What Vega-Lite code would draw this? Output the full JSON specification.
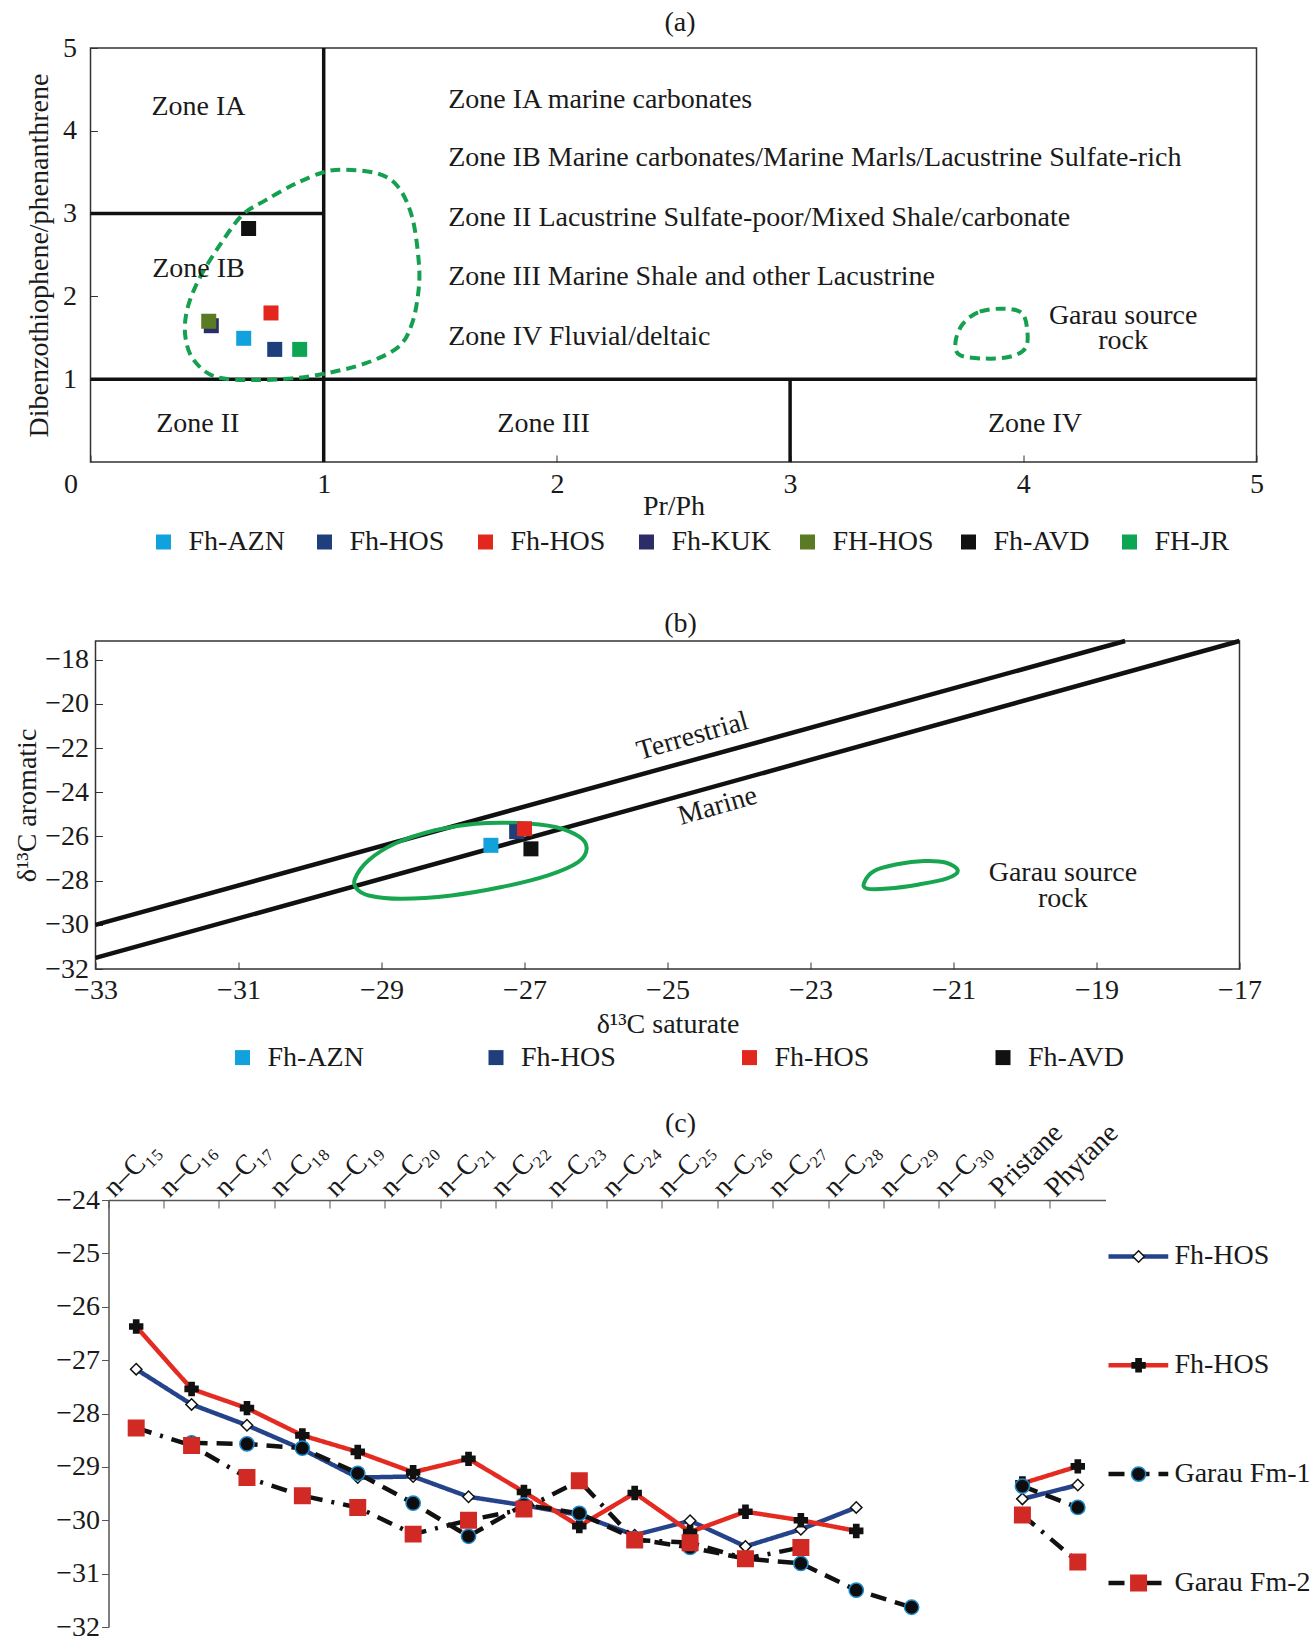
{
  "$schema": "https://vega.github.io/schema/vega-lite/v6.json",
  "padding": {"left": 11.5, "top": 8, "right": 0, "bottom": 0},
  "spacing": 37,
  "config": {
    "font": "Liberation Serif",
    "view": {"stroke": null},
    "axis": {"labelFont": "Liberation Serif", "titleFont": "Liberation Serif", "labelFontSize": 28, "titleFontSize": 28, "titleFontWeight": "normal", "labelColor": "#1a1a1a", "titleColor": "#1a1a1a", "grid": false, "domainColor": "#555", "tickColor": "#333"},
    "legend": {"labelFont": "Liberation Serif", "labelFontSize": 28, "labelColor": "#1a1a1a"},
    "title": {"font": "Liberation Serif", "fontSize": 28, "fontWeight": "normal", "color": "#1a1a1a"},
    "text": {"font": "Liberation Serif", "fontSize": 28, "color": "#1a1a1a"}
  },
  "resolve": {"scale": {"color": "independent", "fill": "independent", "stroke": "independent", "shape": "independent", "size": "independent", "strokeDash": "independent"}},
  "datasets": {
    "zonesA": [
      {"x": 0, "x2": 5, "y": 1, "y2": 1},
      {"x": 1, "x2": 1, "y": 0, "y2": 5},
      {"x": 0, "x2": 1, "y": 3, "y2": 3},
      {"x": 3, "x2": 3, "y": 0, "y2": 1}
    ],
    "loopsA": [
      {"loop": "samples", "i": 0, "x": 1.0, "y": 3.50},
      {"loop": "samples", "i": 1, "x": 0.878, "y": 3.36},
      {"loop": "samples", "i": 2, "x": 0.75, "y": 3.16},
      {"loop": "samples", "i": 3, "x": 0.65, "y": 2.98},
      {"loop": "samples", "i": 4, "x": 0.55, "y": 2.60},
      {"loop": "samples", "i": 5, "x": 0.464, "y": 2.20},
      {"loop": "samples", "i": 6, "x": 0.414, "y": 1.835},
      {"loop": "samples", "i": 7, "x": 0.407, "y": 1.51},
      {"loop": "samples", "i": 8, "x": 0.443, "y": 1.23},
      {"loop": "samples", "i": 9, "x": 0.535, "y": 1.03},
      {"loop": "samples", "i": 10, "x": 0.693, "y": 0.99},
      {"loop": "samples", "i": 11, "x": 0.864, "y": 1.01},
      {"loop": "samples", "i": 12, "x": 1.0, "y": 1.065},
      {"loop": "samples", "i": 13, "x": 1.178, "y": 1.19},
      {"loop": "samples", "i": 14, "x": 1.32, "y": 1.39},
      {"loop": "samples", "i": 15, "x": 1.379, "y": 1.675},
      {"loop": "samples", "i": 16, "x": 1.407, "y": 2.08},
      {"loop": "samples", "i": 17, "x": 1.407, "y": 2.44},
      {"loop": "samples", "i": 18, "x": 1.379, "y": 2.96},
      {"loop": "samples", "i": 19, "x": 1.32, "y": 3.32},
      {"loop": "samples", "i": 20, "x": 1.236, "y": 3.48},
      {"loop": "samples", "i": 21, "x": 1.092, "y": 3.53},
      {"loop": "garau", "i": 0, "x": 3.903, "y": 1.851},
      {"loop": "garau", "i": 1, "x": 3.806, "y": 1.808},
      {"loop": "garau", "i": 2, "x": 3.738, "y": 1.657},
      {"loop": "garau", "i": 3, "x": 3.709, "y": 1.443},
      {"loop": "garau", "i": 4, "x": 3.728, "y": 1.292},
      {"loop": "garau", "i": 5, "x": 3.835, "y": 1.249},
      {"loop": "garau", "i": 6, "x": 3.942, "y": 1.271},
      {"loop": "garau", "i": 7, "x": 4.01, "y": 1.378},
      {"loop": "garau", "i": 8, "x": 4.016, "y": 1.614},
      {"loop": "garau", "i": 9, "x": 3.99, "y": 1.808}
    ],
    "ptsA": [
      {"sample": "Fh-AZN", "x": 0.657, "y": 1.494},
      {"sample": "Fh-HOS#1", "x": 0.79, "y": 1.36},
      {"sample": "Fh-HOS#2", "x": 0.774, "y": 1.80},
      {"sample": "Fh-KUK", "x": 0.518, "y": 1.646},
      {"sample": "FH-HOS", "x": 0.507, "y": 1.70},
      {"sample": "Fh-AVD", "x": 0.678, "y": 2.82},
      {"sample": "FH-JR", "x": 0.897, "y": 1.36}
    ],
    "textAc": [
      {"x": 0.463, "y": 4.285, "t": "Zone IA"},
      {"x": 0.463, "y": 2.33, "t": "Zone IB"},
      {"x": 0.46, "y": 0.454, "t": "Zone II"},
      {"x": 1.943, "y": 0.454, "t": "Zone III"},
      {"x": 4.05, "y": 0.454, "t": "Zone IV"},
      {"x": 4.428, "y": 1.765, "t": "Garau source\nrock"}
    ],
    "textAl": [
      {"x": 1.534, "y": 4.373, "t": "Zone IA marine carbonates"},
      {"x": 1.534, "y": 3.668, "t": "Zone IB Marine carbonates/Marine Marls/Lacustrine Sulfate-rich"},
      {"x": 1.534, "y": 2.949, "t": "Zone II Lacustrine Sulfate-poor/Mixed Shale/carbonate"},
      {"x": 1.534, "y": 2.231, "t": "Zone III Marine Shale and other Lacustrine"},
      {"x": 1.534, "y": 1.513, "t": "Zone IV Fluvial/deltaic"}
    ],
    "linesB": [
      {"line": "Terrestrial", "sat": -33, "aro": -30.0},
      {"line": "Terrestrial", "sat": -18.6, "aro": -17.15},
      {"line": "Marine", "sat": -33, "aro": -31.5},
      {"line": "Marine", "sat": -17.0, "aro": -17.15}
    ],
    "loopsB": [
      {"loop": "samples", "i": 0, "sat": -29.37, "aro": -27.91},
      {"loop": "samples", "i": 1, "sat": -29.18, "aro": -27.08},
      {"loop": "samples", "i": 2, "sat": -28.81, "aro": -26.32},
      {"loop": "samples", "i": 3, "sat": -28.25, "aro": -25.72},
      {"loop": "samples", "i": 4, "sat": -27.69, "aro": -25.42},
      {"loop": "samples", "i": 5, "sat": -27.09, "aro": -25.39},
      {"loop": "samples", "i": 6, "sat": -26.57, "aro": -25.57},
      {"loop": "samples", "i": 7, "sat": -26.23, "aro": -26.02},
      {"loop": "samples", "i": 8, "sat": -26.13, "aro": -26.55},
      {"loop": "samples", "i": 9, "sat": -26.25, "aro": -27.16},
      {"loop": "samples", "i": 10, "sat": -26.67, "aro": -27.76},
      {"loop": "samples", "i": 11, "sat": -27.32, "aro": -28.29},
      {"loop": "samples", "i": 12, "sat": -28.02, "aro": -28.67},
      {"loop": "samples", "i": 13, "sat": -28.72, "aro": -28.82},
      {"loop": "samples", "i": 14, "sat": -29.18, "aro": -28.67},
      {"loop": "samples", "i": 15, "sat": -29.35, "aro": -28.36},
      {"loop": "garau", "i": 0, "sat": -22.25, "aro": -28.09},
      {"loop": "garau", "i": 1, "sat": -22.11, "aro": -27.56},
      {"loop": "garau", "i": 2, "sat": -21.79, "aro": -27.26},
      {"loop": "garau", "i": 3, "sat": -21.41, "aro": -27.11},
      {"loop": "garau", "i": 4, "sat": -21.10, "aro": -27.19},
      {"loop": "garau", "i": 5, "sat": -20.94, "aro": -27.56},
      {"loop": "garau", "i": 6, "sat": -21.10, "aro": -27.91},
      {"loop": "garau", "i": 7, "sat": -21.48, "aro": -28.17},
      {"loop": "garau", "i": 8, "sat": -21.92, "aro": -28.36},
      {"loop": "garau", "i": 9, "sat": -22.21, "aro": -28.36}
    ],
    "ptsB": [
      {"sample": "Fh-AZN", "sat": -27.47, "aro": -26.40},
      {"sample": "Fh-HOS#1", "sat": -27.11, "aro": -25.78},
      {"sample": "Fh-HOS#2", "sat": -27.0, "aro": -25.65},
      {"sample": "Fh-AVD", "sat": -26.91, "aro": -26.56}
    ],
    "lineLabelsB": [
      {"sat": -24.65, "aro": -21.47, "t": "Terrestrial"},
      {"sat": -24.30, "aro": -24.63, "t": "Marine"}
    ],
    "textB": [
      {"sat": -19.47, "aro": -27.64, "t": "Garau source\nrock"}
    ],
    "chains": [
      {"s": "Fh-HOS A", "seg": "n", "c": "n–C₁₅", "v": -27.17},
      {"s": "Fh-HOS A", "seg": "n", "c": "n–C₁₆", "v": -27.83},
      {"s": "Fh-HOS A", "seg": "n", "c": "n–C₁₇", "v": -28.22},
      {"s": "Fh-HOS A", "seg": "n", "c": "n–C₁₈", "v": -28.67},
      {"s": "Fh-HOS A", "seg": "n", "c": "n–C₁₉", "v": -29.20},
      {"s": "Fh-HOS A", "seg": "n", "c": "n–C₂₀", "v": -29.18},
      {"s": "Fh-HOS A", "seg": "n", "c": "n–C₂₁", "v": -29.56},
      {"s": "Fh-HOS A", "seg": "n", "c": "n–C₂₂", "v": -29.72},
      {"s": "Fh-HOS A", "seg": "n", "c": "n–C₂₃", "v": -29.90},
      {"s": "Fh-HOS A", "seg": "n", "c": "n–C₂₄", "v": -30.28},
      {"s": "Fh-HOS A", "seg": "n", "c": "n–C₂₅", "v": -30.01},
      {"s": "Fh-HOS A", "seg": "n", "c": "n–C₂₆", "v": -30.49},
      {"s": "Fh-HOS A", "seg": "n", "c": "n–C₂₇", "v": -30.17},
      {"s": "Fh-HOS A", "seg": "n", "c": "n–C₂₈", "v": -29.76},
      {"s": "Fh-HOS A", "seg": "i", "c": "Pristane", "v": -29.60},
      {"s": "Fh-HOS A", "seg": "i", "c": "Phytane", "v": -29.34},
      {"s": "Fh-HOS B", "seg": "n", "c": "n–C₁₅", "v": -26.37},
      {"s": "Fh-HOS B", "seg": "n", "c": "n–C₁₆", "v": -27.54},
      {"s": "Fh-HOS B", "seg": "n", "c": "n–C₁₇", "v": -27.90},
      {"s": "Fh-HOS B", "seg": "n", "c": "n–C₁₈", "v": -28.41},
      {"s": "Fh-HOS B", "seg": "n", "c": "n–C₁₉", "v": -28.72},
      {"s": "Fh-HOS B", "seg": "n", "c": "n–C₂₀", "v": -29.10},
      {"s": "Fh-HOS B", "seg": "n", "c": "n–C₂₁", "v": -28.85},
      {"s": "Fh-HOS B", "seg": "n", "c": "n–C₂₂", "v": -29.47},
      {"s": "Fh-HOS B", "seg": "n", "c": "n–C₂₃", "v": -30.11},
      {"s": "Fh-HOS B", "seg": "n", "c": "n–C₂₄", "v": -29.49},
      {"s": "Fh-HOS B", "seg": "n", "c": "n–C₂₅", "v": -30.22},
      {"s": "Fh-HOS B", "seg": "n", "c": "n–C₂₆", "v": -29.84},
      {"s": "Fh-HOS B", "seg": "n", "c": "n–C₂₇", "v": -30.00},
      {"s": "Fh-HOS B", "seg": "n", "c": "n–C₂₈", "v": -30.20},
      {"s": "Fh-HOS B", "seg": "i", "c": "Pristane", "v": -29.31},
      {"s": "Fh-HOS B", "seg": "i", "c": "Phytane", "v": -28.99},
      {"s": "Garau Fm-1", "seg": "n", "c": "n–C₁₆", "v": -28.55},
      {"s": "Garau Fm-1", "seg": "n", "c": "n–C₁₇", "v": -28.57},
      {"s": "Garau Fm-1", "seg": "n", "c": "n–C₁₈", "v": -28.65},
      {"s": "Garau Fm-1", "seg": "n", "c": "n–C₁₉", "v": -29.12},
      {"s": "Garau Fm-1", "seg": "n", "c": "n–C₂₀", "v": -29.68},
      {"s": "Garau Fm-1", "seg": "n", "c": "n–C₂₁", "v": -30.30},
      {"s": "Garau Fm-1", "seg": "n", "c": "n–C₂₂", "v": -29.71},
      {"s": "Garau Fm-1", "seg": "n", "c": "n–C₂₃", "v": -29.87},
      {"s": "Garau Fm-1", "seg": "n", "c": "n–C₂₄", "v": -30.35},
      {"s": "Garau Fm-1", "seg": "n", "c": "n–C₂₅", "v": -30.51},
      {"s": "Garau Fm-1", "seg": "n", "c": "n–C₂₆", "v": -30.72},
      {"s": "Garau Fm-1", "seg": "n", "c": "n–C₂₇", "v": -30.81},
      {"s": "Garau Fm-1", "seg": "n", "c": "n–C₂₈", "v": -31.31},
      {"s": "Garau Fm-1", "seg": "n", "c": "n–C₂₉", "v": -31.63},
      {"s": "Garau Fm-1", "seg": "i", "c": "Pristane", "v": -29.36},
      {"s": "Garau Fm-1", "seg": "i", "c": "Phytane", "v": -29.76},
      {"s": "Garau Fm-2", "seg": "n", "c": "n–C₁₅", "v": -28.27},
      {"s": "Garau Fm-2", "seg": "n", "c": "n–C₁₆", "v": -28.60},
      {"s": "Garau Fm-2", "seg": "n", "c": "n–C₁₇", "v": -29.20},
      {"s": "Garau Fm-2", "seg": "n", "c": "n–C₁₈", "v": -29.54},
      {"s": "Garau Fm-2", "seg": "n", "c": "n–C₁₉", "v": -29.76},
      {"s": "Garau Fm-2", "seg": "n", "c": "n–C₂₀", "v": -30.26},
      {"s": "Garau Fm-2", "seg": "n", "c": "n–C₂₁", "v": -30.00},
      {"s": "Garau Fm-2", "seg": "n", "c": "n–C₂₂", "v": -29.79},
      {"s": "Garau Fm-2", "seg": "n", "c": "n–C₂₃", "v": -29.26},
      {"s": "Garau Fm-2", "seg": "n", "c": "n–C₂₄", "v": -30.37},
      {"s": "Garau Fm-2", "seg": "n", "c": "n–C₂₅", "v": -30.42},
      {"s": "Garau Fm-2", "seg": "n", "c": "n–C₂₆", "v": -30.72},
      {"s": "Garau Fm-2", "seg": "n", "c": "n–C₂₇", "v": -30.51},
      {"s": "Garau Fm-2", "seg": "i", "c": "Pristane", "v": -29.90},
      {"s": "Garau Fm-2", "seg": "i", "c": "Phytane", "v": -30.78}
    ],
    "legC": [
      {"s": "Fh-HOS A", "label": "Fh-HOS"},
      {"s": "Fh-HOS B", "label": "Fh-HOS"},
      {"s": "Garau Fm-1", "label": "Garau Fm-1"},
      {"s": "Garau Fm-2", "label": "Garau Fm-2"}
    ]
  },
  "vconcat": [
    {
      "width": 1166,
      "height": 414,
      "view": {"stroke": "#333", "strokeWidth": 1.5},
      "title": {"text": "(a)", "anchor": "middle", "frame": "group", "dx": 6.5, "offset": -3},
      "layer": [
        {
          "data": {"name": "zonesA"},
          "mark": {"type": "rule", "color": "#111", "strokeWidth": 3.5},
          "encoding": {
            "x": {"field": "x", "type": "quantitative", "scale": {"domain": [0, 5], "nice": false, "zero": false},
              "axis": {"title": "Pr/Ph", "values": [0, 1, 2, 3, 4, 5], "format": "d", "domain": false, "tickSize": -7, "labelPadding": 15, "labelFlush": false, "titlePadding": -6,
                "labelOffset": {"condition": {"test": "datum.value === 0", "value": -20}, "value": 0}}},
            "x2": {"field": "x2"},
            "y": {"field": "y", "type": "quantitative", "scale": {"domain": [0, 5], "nice": false, "zero": false},
              "axis": {"title": "Dibenzothiophene/phenanthrene", "values": [1, 2, 3, 4, 5], "format": "d", "domain": false, "tickSize": -7, "labelPadding": 21, "titleX": -51.5, "titleBaseline": "middle"}},
            "y2": {"field": "y2"}
          }
        },
        {
          "data": {"name": "loopsA"},
          "mark": {"type": "line", "interpolate": "cardinal-closed", "color": "#14a04f", "strokeWidth": 4, "strokeDash": [10, 6]},
          "encoding": {
            "x": {"field": "x", "type": "quantitative"},
            "y": {"field": "y", "type": "quantitative"},
            "detail": {"field": "loop"},
            "order": {"field": "i"}
          }
        },
        {
          "data": {"name": "ptsA"},
          "mark": {"type": "point", "shape": "square", "filled": true, "size": 225, "opacity": 1, "strokeWidth": 0},
          "encoding": {
            "x": {"field": "x", "type": "quantitative"},
            "y": {"field": "y", "type": "quantitative"},
            "color": {"field": "sample", "type": "nominal",
              "scale": {"domain": ["Fh-AZN", "Fh-HOS#1", "Fh-HOS#2", "Fh-KUK", "FH-HOS", "Fh-AVD", "FH-JR"], "range": ["#11a1dc", "#1f3f7c", "#e2271f", "#2c2d68", "#5b7a24", "#111111", "#0ca553"]},
              "legend": {"title": null, "orient": "none", "legendX": 44, "legendY": 465, "direction": "horizontal", "columns": 7, "gridAlign": "all", "columnPadding": 20, "symbolType": "square", "symbolSize": 225, "symbolStrokeWidth": 0, "labelOffset": 11, "padding": 15, "labelExpr": "split(datum.label, '#')[0]"}}
          }
        },
        {
          "data": {"name": "textAc"},
          "mark": {"type": "text", "align": "center", "baseline": "middle", "fontSize": 28, "lineBreak": "\n", "lineHeight": 25},
          "encoding": {
            "x": {"field": "x", "type": "quantitative"},
            "y": {"field": "y", "type": "quantitative"},
            "text": {"field": "t"}
          }
        },
        {
          "data": {"name": "textAl"},
          "mark": {"type": "text", "align": "left", "baseline": "middle", "fontSize": 28},
          "encoding": {
            "x": {"field": "x", "type": "quantitative"},
            "y": {"field": "y", "type": "quantitative"},
            "text": {"field": "t"}
          }
        }
      ]
    },
    {
      "hconcat": [
        {"width": 4.5, "height": 10, "data": {"values": []}, "mark": "point"},
        {
          "width": 1144,
          "height": 328,
          "view": {"stroke": "#333", "strokeWidth": 1.5},
          "title": {"text": "(b)", "anchor": "middle", "frame": "group", "dx": 13, "offset": -6},
          "layer": [
            {
              "data": {"name": "linesB"},
              "mark": {"type": "line", "color": "#111", "strokeWidth": 4.5},
              "encoding": {
                "x": {"field": "sat", "type": "quantitative", "scale": {"domain": [-33, -17], "nice": false, "zero": false},
                  "axis": {"title": "δ¹³C saturate", "values": [-33, -31, -29, -27, -25, -23, -21, -19, -17], "format": "d", "domain": false, "tickSize": -7, "labelPadding": 14, "labelFlush": false, "titlePadding": 6}},
                "y": {"field": "aro", "type": "quantitative", "scale": {"domain": [-32, -17.15], "nice": false, "zero": false},
                  "axis": {"title": "δ¹³C  aromatic", "values": [-32, -30, -28, -26, -24, -22, -20, -18], "format": "d", "domain": false, "tickSize": -7, "labelPadding": 14, "titleX": -68.5, "titleBaseline": "middle"}},
                "detail": {"field": "line"}
              }
            },
            {
              "data": {"name": "loopsB"},
              "mark": {"type": "line", "interpolate": "cardinal-closed", "color": "#18a550", "strokeWidth": 4},
              "encoding": {
                "x": {"field": "sat", "type": "quantitative"},
                "y": {"field": "aro", "type": "quantitative"},
                "detail": {"field": "loop"},
                "order": {"field": "i"}
              }
            },
            {
              "data": {"name": "ptsB"},
              "mark": {"type": "point", "shape": "square", "filled": true, "size": 225, "opacity": 1, "strokeWidth": 0},
              "encoding": {
                "x": {"field": "sat", "type": "quantitative"},
                "y": {"field": "aro", "type": "quantitative"},
                "color": {"field": "sample", "type": "nominal",
                  "scale": {"domain": ["Fh-AZN", "Fh-HOS#1", "Fh-HOS#2", "Fh-AVD"], "range": ["#11a1dc", "#1f3f7c", "#e2271f", "#111111"]},
                  "legend": {"title": null, "orient": "none", "legendX": 133, "legendY": 402.6, "direction": "horizontal", "columns": 4, "gridAlign": "all", "columnPadding": 117.5, "symbolType": "square", "symbolSize": 225, "symbolStrokeWidth": 0, "labelOffset": 11, "padding": 0, "labelExpr": "split(datum.label, '#')[0]"}}
              }
            },
            {
              "data": {"name": "lineLabelsB"},
              "mark": {"type": "text", "align": "center", "baseline": "middle", "fontSize": 28, "angle": 344},
              "encoding": {
                "x": {"field": "sat", "type": "quantitative"},
                "y": {"field": "aro", "type": "quantitative"},
                "text": {"field": "t"}
              }
            },
            {
              "data": {"name": "textB"},
              "mark": {"type": "text", "align": "center", "baseline": "middle", "fontSize": 28, "lineBreak": "\n", "lineHeight": 26},
              "encoding": {
                "x": {"field": "sat", "type": "quantitative"},
                "y": {"field": "aro", "type": "quantitative"},
                "text": {"field": "t"}
              }
            }
          ]
        }
      ],
      "spacing": 0,
      "bounds": "flush",
      "resolve": {"scale": {"x": "independent", "y": "independent", "color": "independent"}}
    },
    {
      "hconcat": [
        {"width": 14.5, "height": 10, "data": {"values": []}, "mark": "point"},
        {
          "width": 997,
          "height": 427,
          "title": {"text": "(c)", "anchor": "middle", "frame": "group", "dx": 73.5, "offset": -20},
          "data": {"name": "chains"},
          "encoding": {
            "x": {"field": "c", "type": "nominal", "bandPosition": 0.5,
              "scale": {"type": "band", "paddingInner": 0, "paddingOuter": 0,
                "domain": ["n–C₁₅", "n–C₁₆", "n–C₁₇", "n–C₁₈", "n–C₁₉", "n–C₂₀", "n–C₂₁", "n–C₂₂", "n–C₂₃", "n–C₂₄", "n–C₂₅", "n–C₂₆", "n–C₂₇", "n–C₂₈", "n–C₂₉", "n–C₃₀", "Pristane", "Phytane"]},
              "axis": {"orient": "top", "title": null, "bandPosition": 0, "labelAngle": -45, "labelAlign": "left", "labelBaseline": "middle", "labelFontSize": 28, "labelOffset": -27.7, "tickSize": -8, "labelPadding": 16, "labelOverlap": false, "labelBound": false, "domainWidth": 1.5, "domainColor": "#555", "tickColor": "#555"}},
            "y": {"field": "v", "type": "quantitative", "scale": {"domain": [-32, -24], "nice": false, "zero": false},
              "axis": {"title": null, "values": [-32, -31, -30, -29, -28, -27, -26, -25, -24], "format": "d", "tickSize": 7, "labelPadding": 2, "domainWidth": 1.5, "domainColor": "#555", "tickColor": "#555"}}
          },
          "layer": [
            {
              "mark": {"type": "line", "strokeWidth": 4.5},
              "encoding": {
                "color": {"field": "s", "type": "nominal", "scale": {"domain": ["Fh-HOS A", "Fh-HOS B", "Garau Fm-1", "Garau Fm-2"], "range": ["#24438a", "#e42b22", "#111111", "#111111"]}, "legend": null},
                "strokeDash": {"field": "s", "type": "nominal", "scale": {"domain": ["Fh-HOS A", "Fh-HOS B", "Garau Fm-1", "Garau Fm-2"], "range": [[1, 0], [1, 0], [16, 9], [16, 9, 3, 9]]}, "legend": null},
                "detail": {"field": "seg"}
              }
            },
            {
              "mark": {"type": "point", "filled": true, "opacity": 1, "strokeWidth": 1.5},
              "encoding": {
                "shape": {"field": "s", "type": "nominal", "scale": {"domain": ["Fh-HOS A", "Fh-HOS B", "Garau Fm-1", "Garau Fm-2"], "range": ["diamond", "cross", "circle", "square"]}, "legend": null},
                "fill": {"field": "s", "type": "nominal", "scale": {"domain": ["Fh-HOS A", "Fh-HOS B", "Garau Fm-1", "Garau Fm-2"], "range": ["#ffffff", "#111111", "#0d0d0d", "#d12a25"]}, "legend": null},
                "stroke": {"field": "s", "type": "nominal", "scale": {"domain": ["Fh-HOS A", "Fh-HOS B", "Garau Fm-1", "Garau Fm-2"], "range": ["#111111", "#111111", "#1d8ad0", "#d12a25"]}, "legend": null},
                "size": {"field": "s", "type": "nominal", "scale": {"domain": ["Fh-HOS A", "Fh-HOS B", "Garau Fm-1", "Garau Fm-2"], "range": [130, 240, 280, 330]}, "legend": null}
              }
            }
          ]
        },
        {
          "width": 206,
          "height": 427,
          "data": {"name": "legC"},
          "encoding": {
            "y": {"field": "s", "type": "nominal", "sort": null, "scale": {"type": "point", "padding": 0.4623, "align": 0.5616}, "axis": null}
          },
          "layer": [
            {
              "mark": {"type": "rule", "strokeWidth": 4.5},
              "encoding": {
                "x": {"datum": 0, "type": "quantitative", "scale": {"domain": [0, 1], "nice": false, "zero": false}, "axis": null},
                "x2": {"datum": 0.29},
                "color": {"field": "s", "type": "nominal", "scale": {"domain": ["Fh-HOS A", "Fh-HOS B", "Garau Fm-1", "Garau Fm-2"], "range": ["#24438a", "#e42b22", "#111111", "#111111"]}, "legend": null},
                "strokeDash": {"field": "s", "type": "nominal", "scale": {"domain": ["Fh-HOS A", "Fh-HOS B", "Garau Fm-1", "Garau Fm-2"], "range": [[1, 0], [1, 0], [16, 9], [16, 9, 3, 9]]}, "legend": null}
              }
            },
            {
              "mark": {"type": "point", "filled": true, "opacity": 1, "strokeWidth": 1.5},
              "encoding": {
                "x": {"datum": 0.146, "type": "quantitative"},
                "shape": {"field": "s", "type": "nominal", "scale": {"domain": ["Fh-HOS A", "Fh-HOS B", "Garau Fm-1", "Garau Fm-2"], "range": ["diamond", "cross", "circle", "square"]}, "legend": null},
                "fill": {"field": "s", "type": "nominal", "scale": {"domain": ["Fh-HOS A", "Fh-HOS B", "Garau Fm-1", "Garau Fm-2"], "range": ["#ffffff", "#111111", "#0d0d0d", "#d12a25"]}, "legend": null},
                "stroke": {"field": "s", "type": "nominal", "scale": {"domain": ["Fh-HOS A", "Fh-HOS B", "Garau Fm-1", "Garau Fm-2"], "range": ["#111111", "#111111", "#1d8ad0", "#d12a25"]}, "legend": null},
                "size": {"field": "s", "type": "nominal", "scale": {"domain": ["Fh-HOS A", "Fh-HOS B", "Garau Fm-1", "Garau Fm-2"], "range": [130, 240, 280, 330]}, "legend": null}
              }
            },
            {
              "mark": {"type": "text", "align": "left", "baseline": "middle", "fontSize": 28},
              "encoding": {
                "x": {"datum": 0.32, "type": "quantitative"},
                "text": {"field": "label"}
              }
            }
          ]
        }
      ],
      "spacing": 3,
      "bounds": "flush",
      "resolve": {"scale": {"x": "independent", "y": "independent", "color": "independent", "fill": "independent", "stroke": "independent", "shape": "independent", "size": "independent", "strokeDash": "independent"}}
    }
  ]
}
